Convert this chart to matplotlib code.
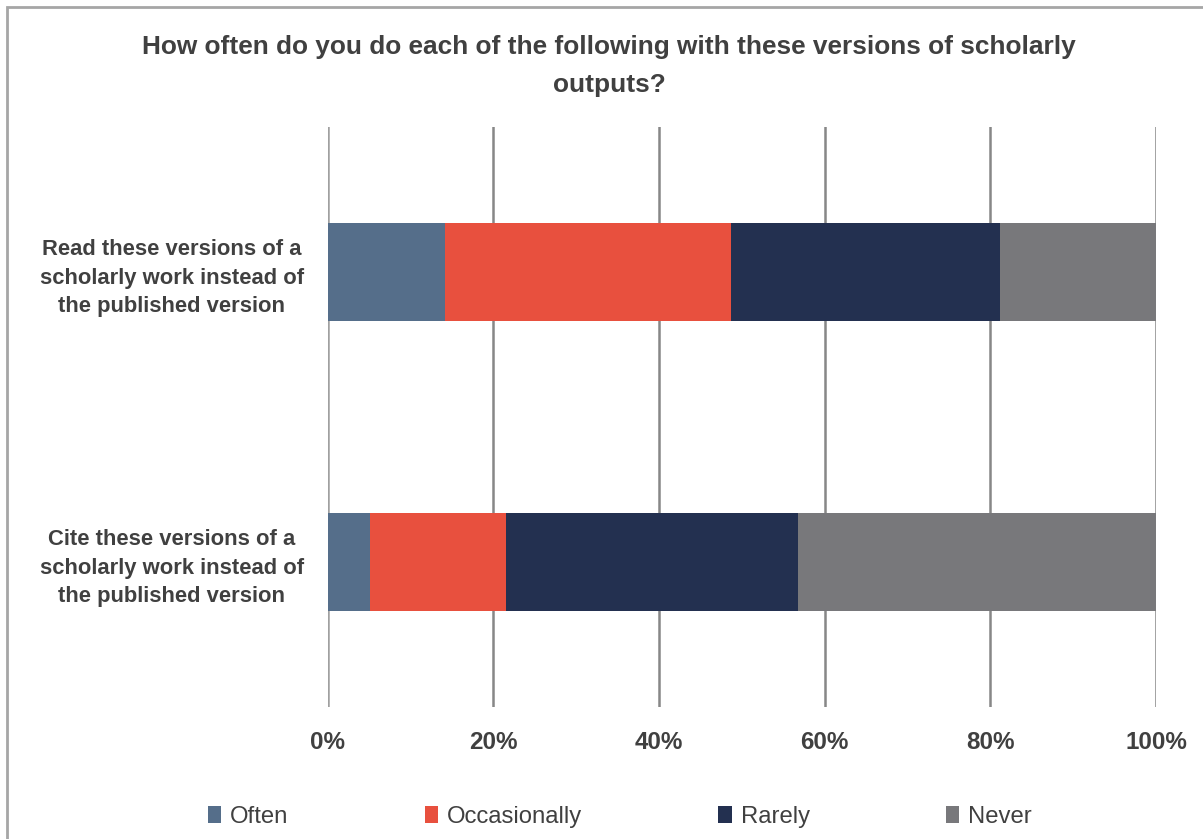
import matplotlib
matplotlib.use('Agg')
import numpy as np
import matplotlib.pyplot as plt
from matplotlib.patches import Rectangle

plt.rcParams['font.family'] = ['Liberation Sans Narrow', 'Liberation Sans', 'DejaVu Sans']

categories = ['Read these versions of a\nscholarly work instead of\nthe published version',
              'Cite these versions of a\nscholarly work instead of\nthe published version']
series = ['Often', 'Occasionally', 'Rarely', 'Never']
often = [14.2, 5.1]
occasionally = [34.5, 16.4]
rarely = [32.5, 35.3]
never = [18.8, 43.2]
colors = ['#556E8A', '#E8503E', '#233050', '#78787B']
ticks = [0, 20, 40, 60, 80, 100]
tick_labels = ['0%', '20%', '40%', '60%', '80%', '100%']

txt = '#404040'

fig = plt.figure(figsize=(12.03, 8.39), dpi=100)
ax = fig.add_axes([327.5 / 1203, 1 - 707 / 839, (1156 - 327.5) / 1203, 580 / 839])

y = np.arange(len(categories))
left = np.zeros(len(categories))
for vals, name, c in zip([often, occasionally, rarely, never], series, colors):
    ax.barh(y, vals, left=left, height=0.34, color=c, label=name, zorder=3)
    left += np.array(vals)

ax.set_xlim(0, 100)
ax.set_ylim(1.5, -0.5)
ax.set_xticks(ticks)
ax.set_xticklabels(tick_labels, fontsize=17.4, fontweight='bold', color=txt)
ax.set_yticks(y)
ax.set_yticklabels(categories, fontsize=15.8, fontweight='bold', color=txt,
                   ha='center', linespacing=1.45)
ax.tick_params(axis='y', length=0, pad=112)
ax.tick_params(axis='x', length=0, pad=17)
for s in ax.spines.values():
    s.set_visible(False)
for t in ticks:
    ax.axvline(t, color='#A0A0A0' if t == 0 else '#878787', lw=1.8, zorder=1)

fig.text(609 / 1203, 1 - 66 / 839, 'How often do you do each of the following with these versions of scholarly\noutputs?',
         ha='center', va='center', fontsize=18.9, fontweight='bold', color=txt, linespacing=1.72)

handles, labels = ax.get_legend_handles_labels()
fig.legend(handles, labels, loc='center', bbox_to_anchor=(620 / 1203, 1 - 817 / 839), ncol=4,
           frameon=False, fontsize=17.2, labelcolor=txt, handlelength=0.55, handleheight=0.7,
           handletextpad=0.38, columnspacing=5.7)

fig.patches.append(Rectangle((7 / 1203, -0.1), 1.2, 1 - 7 / 839 + 0.1, transform=fig.transFigure,
                             fill=False, edgecolor='#A6A6A6', lw=2))

fig.savefig('out.png', dpi=100)
